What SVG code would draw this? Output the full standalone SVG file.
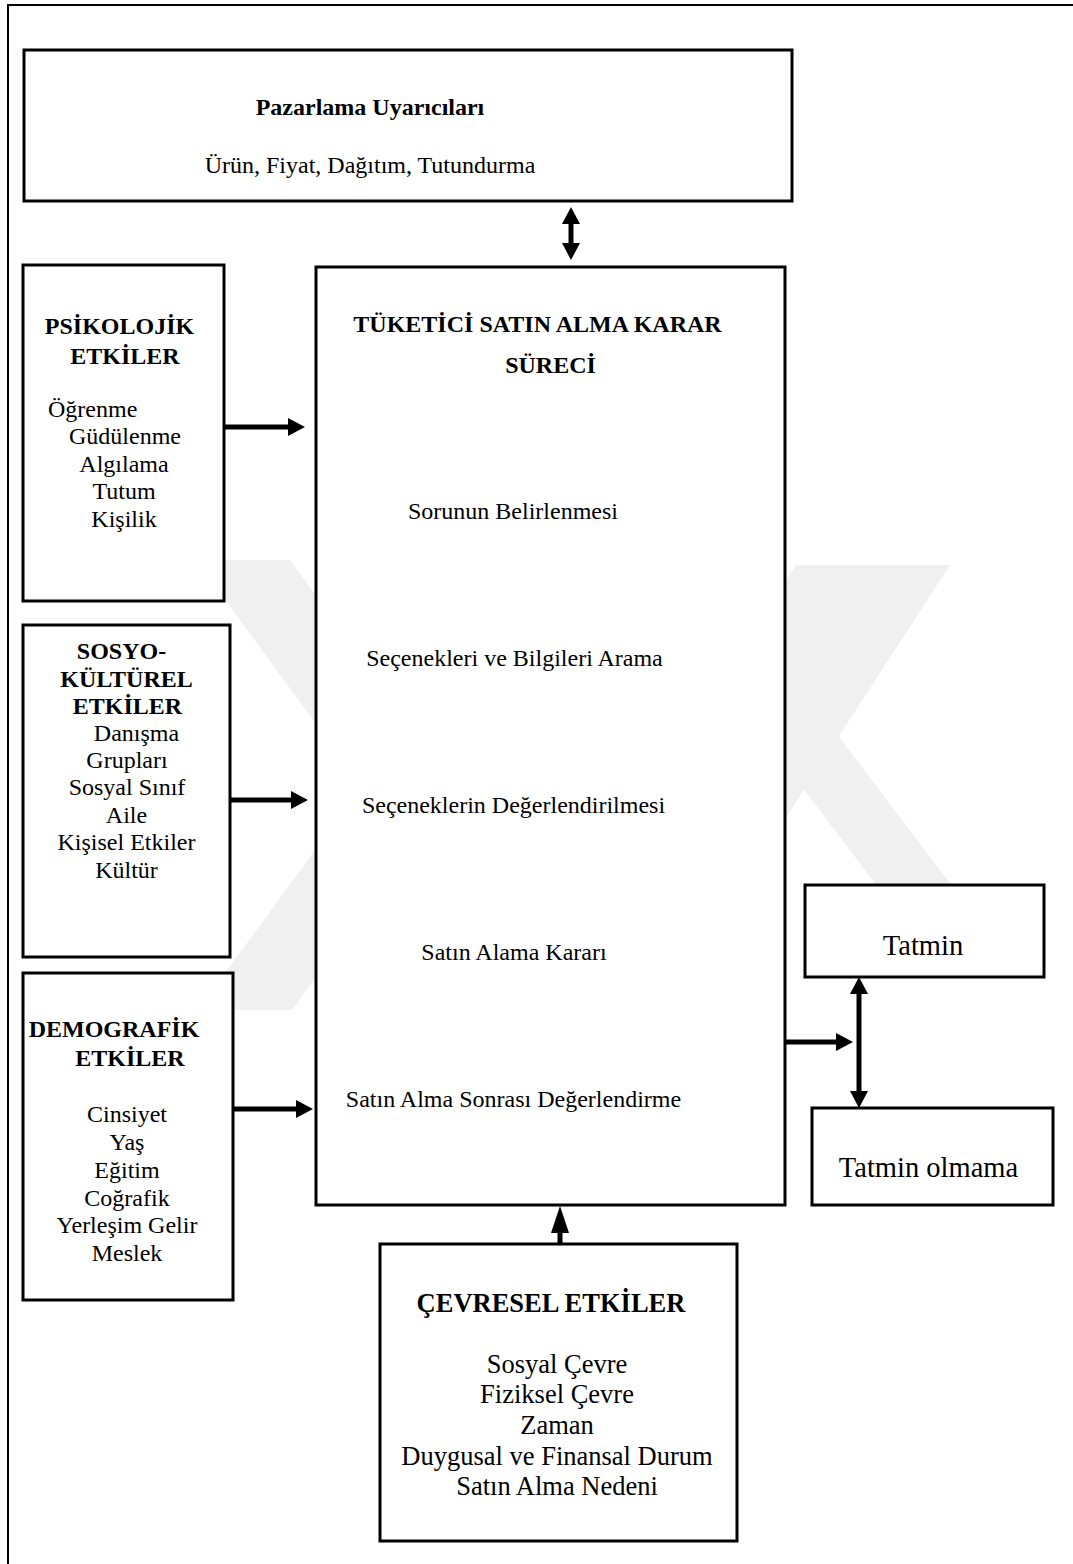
<svg xmlns="http://www.w3.org/2000/svg" width="1073" height="1564" viewBox="0 0 1073 1564">
  <style>
    .box { fill: #ffffff; stroke: #000000; stroke-width: 3; }
    .frame { fill: none; stroke: #000000; stroke-width: 2; }
    .t { font-family: "Liberation Serif", "Times New Roman", serif; font-size: 24px; fill: #000000; text-anchor: middle; }
    .b { font-weight: bold; }
    .env { font-size: 26.5px; }
    .big { font-size: 28.5px; }
    .wire { fill: none; stroke: #000000; stroke-width: 5; }
    .mark { fill: #f0f0f0; stroke: none; }
  </style>
  <defs>
    <marker id="head" markerUnits="userSpaceOnUse" markerWidth="18" markerHeight="18" refX="0" refY="9" orient="auto-start-reverse">
      <path d="M0,0 L17,9 L0,18 z" fill="#000000"/>
    </marker>
    <marker id="headLong" markerUnits="userSpaceOnUse" markerWidth="28" markerHeight="18" refX="0" refY="9" orient="auto">
      <path d="M0,0 L27,9 L0,18 z" fill="#000000"/>
    </marker>
  </defs>

  <rect width="1073" height="1564" fill="#ffffff"/>

  <!-- faint background emblem: four diagonal arms -->
  <g id="emblem">
    <polygon class="mark" points="196,560 290,560 400,711 400,839"/>
    <polygon class="mark" points="400,734 400,863 292,1010 198,1010"/>
    <polygon class="mark" points="796,565 950,565 700,950 700,713"/>
    <polygon class="mark" points="700,553 955,890 880,890 700,652"/>
  </g>

  <!-- page frame -->
  <path class="frame" d="M8,1564 V5 H1073"/>

  <g id="pazarlama">
    <rect class="box" x="24" y="50" width="768" height="151"/>
    <text class="t b" x="370" y="115">Pazarlama Uyarıcıları</text>
    <text class="t" x="370" y="173">Ürün, Fiyat, Dağıtım, Tutundurma</text>
  </g>

  <g id="karar-sureci">
    <rect class="box" x="316" y="267" width="469" height="938"/>
    <text class="t b" x="537.5" y="332">TÜKETİCİ SATIN ALMA KARAR</text>
    <text class="t b" x="550.5" y="373">SÜRECİ</text>
    <text class="t" x="513" y="519">Sorunun Belirlenmesi</text>
    <text class="t" x="514.5" y="666">Seçenekleri ve Bilgileri Arama</text>
    <text class="t" x="513.5" y="813">Seçeneklerin Değerlendirilmesi</text>
    <text class="t" x="514" y="960">Satın Alama Kararı</text>
    <text class="t" x="513.5" y="1107">Satın Alma Sonrası Değerlendirme</text>
  </g>

  <g id="psikolojik">
    <rect class="box" x="23" y="265" width="201" height="336"/>
    <text class="t b" x="119.5" y="334">PSİKOLOJİK</text>
    <text class="t b" x="125" y="364">ETKİLER</text>
    <text class="t" x="48" y="417" style="text-anchor:start">Öğrenme</text>
    <text class="t" x="125" y="444">Güdülenme</text>
    <text class="t" x="124" y="472">Algılama</text>
    <text class="t" x="124" y="499">Tutum</text>
    <text class="t" x="124" y="527">Kişilik</text>
  </g>

  <g id="sosyo-kulturel">
    <rect class="box" x="23" y="625" width="207" height="332"/>
    <text class="t b" x="121.5" y="659">SOSYO-</text>
    <text class="t b" x="126.5" y="687">KÜLTÜREL</text>
    <text class="t b" x="127.5" y="714">ETKİLER</text>
    <text class="t" x="136.5" y="741">Danışma</text>
    <text class="t" x="127" y="768">Grupları</text>
    <text class="t" x="127" y="795">Sosyal Sınıf</text>
    <text class="t" x="126.5" y="823">Aile</text>
    <text class="t" x="126.5" y="850">Kişisel Etkiler</text>
    <text class="t" x="126.5" y="878">Kültür</text>
  </g>

  <g id="demografik">
    <rect class="box" x="23" y="973" width="210" height="327"/>
    <text class="t b" x="114" y="1037">DEMOGRAFİK</text>
    <text class="t b" x="130" y="1066">ETKİLER</text>
    <text class="t" x="127" y="1122">Cinsiyet</text>
    <text class="t" x="127" y="1150">Yaş</text>
    <text class="t" x="127" y="1178">Eğitim</text>
    <text class="t" x="127" y="1206">Coğrafik</text>
    <text class="t" x="127" y="1233">Yerleşim Gelir</text>
    <text class="t" x="127" y="1261">Meslek</text>
  </g>

  <g id="cevresel">
    <rect class="box" x="380" y="1244" width="357" height="297"/>
    <text class="t b env" x="551" y="1312">ÇEVRESEL ETKİLER</text>
    <text class="t env" x="557" y="1373">Sosyal Çevre</text>
    <text class="t env" x="557" y="1403">Fiziksel Çevre</text>
    <text class="t env" x="557" y="1434">Zaman</text>
    <text class="t env" x="557" y="1465">Duygusal ve Finansal Durum</text>
    <text class="t env" x="557" y="1495">Satın Alma Nedeni</text>
  </g>

  <g id="tatmin">
    <rect class="box" x="805" y="885" width="239" height="92"/>
    <text class="t big" x="923" y="955">Tatmin</text>
  </g>

  <g id="tatmin-olmama">
    <rect class="box" x="812" y="1108" width="241" height="97"/>
    <text class="t big" x="928.5" y="1177">Tatmin olmama</text>
  </g>

  <g id="connectors">
    <line class="wire" x1="571" y1="224" x2="571" y2="243" marker-start="url(#head)" marker-end="url(#head)"/>
    <line class="wire" x1="224" y1="427" x2="288" y2="427" marker-end="url(#head)"/>
    <line class="wire" x1="230" y1="800" x2="291" y2="800" marker-end="url(#head)"/>
    <line class="wire" x1="233" y1="1109" x2="296" y2="1109" marker-end="url(#head)"/>
    <line class="wire" x1="786" y1="1042" x2="836" y2="1042" marker-end="url(#head)"/>
    <line class="wire" x1="859" y1="994" x2="859" y2="1091" marker-start="url(#head)" marker-end="url(#head)"/>
    <line class="wire" x1="560" y1="1244" x2="560" y2="1233" marker-end="url(#headLong)"/>
  </g>
</svg>
